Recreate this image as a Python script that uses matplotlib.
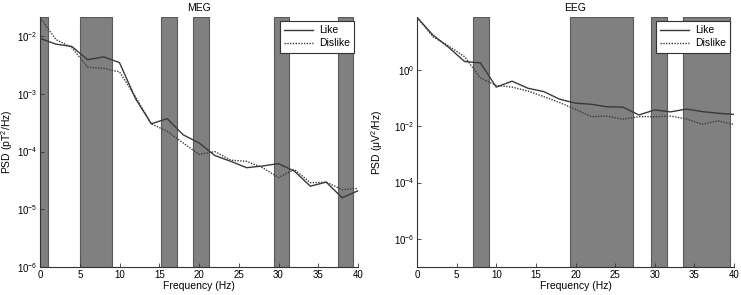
import numpy as np
import matplotlib
matplotlib.use('Agg')
import matplotlib.pyplot as plt

plt.rcParams['font.family'] = ['Liberation Sans', 'DejaVu Sans']
plt.rcParams['mathtext.fontset'] = 'custom'
plt.rcParams['mathtext.rm'] = 'Liberation Sans'
plt.rcParams['mathtext.it'] = 'Liberation Sans:italic'

freqs = np.arange(0, 41, 2)

# log10 of PSD
meg_like_log = [-2.04, -2.14, -2.18, -2.41, -2.36, -2.46, -3.08, -3.52, -3.43, -3.71,
                -3.85, -4.07, -4.17, -4.28, -4.25, -4.21, -4.34, -4.60, -4.53, -4.80, -4.68]
meg_dislike_log = [-1.68, -2.06, -2.20, -2.54, -2.56, -2.62, -3.05, -3.52, -3.65, -3.85,
                   -4.05, -4.00, -4.15, -4.17, -4.28, -4.45, -4.31, -4.54, -4.53, -4.66, -4.64]
eeg_like_log = [1.87, 1.24, 0.80, 0.30, 0.25, -0.61, -0.40, -0.65, -0.77, -1.04,
                -1.18, -1.22, -1.31, -1.32, -1.60, -1.42, -1.49, -1.39, -1.48, -1.54, -1.58]
eeg_dislike_log = [1.87, 1.18, 0.85, 0.47, -0.29, -0.55, -0.61, -0.75, -0.95, -1.16,
                   -1.40, -1.66, -1.64, -1.75, -1.66, -1.66, -1.64, -1.74, -1.93, -1.81, -1.94]

# significant frequency bands (Hz)
meg_bands = [(0, 1), (5, 9.05), (15.2, 17.2), (19.25, 21.25), (29.4, 31.35), (37.45, 39.4)]
eeg_bands = [(7.1, 9.1), (19.3, 27.3), (29.5, 31.5), (33.6, 39.5)]

fig = plt.figure(figsize=(7.41, 2.95), dpi=100)
ax1 = fig.add_axes([40/741, 28/295, 318/741, 250/295])
ax2 = fig.add_axes([417/741, 28/295, 317/741, 250/295])

panels = [
    (ax1, 'MEG', meg_like_log, meg_dislike_log, meg_bands, (1e-6, 10**-1.67),
     [1e-6, 1e-5, 1e-4, 1e-3, 1e-2], 'PSD (pT$^2$/Hz)', -0.078),
    (ax2, 'EEG', eeg_like_log, eeg_dislike_log, eeg_bands, (1e-7, 10**1.88),
     [1e-6, 1e-4, 1e-2, 1e0], 'PSD (\u03bcV$^2$/Hz)', -0.10),
]

for ax, title, like, dislike, bands, ylim, yticks, ylabel, labx in panels:
    for b0, b1 in bands:
        ax.axvspan(b0, b1, facecolor='#808080', edgecolor='#5a5a5a', lw=0.8, zorder=1)
    ax.plot(freqs, 10**np.array(like), color='#3a3a3a', lw=1.0, label='Like', zorder=3)
    ax.plot(freqs, 10**np.array(dislike), color='#3a3a3a', lw=1.0, ls=(0, (1, 1)),
            label='Dislike', zorder=3)
    ax.set_yscale('log')
    ax.set_xlim(0, 40)
    ax.set_ylim(*ylim)
    ax.set_yticks(yticks)
    ax.yaxis.set_minor_locator(matplotlib.ticker.NullLocator())
    ax.set_xticks(range(0, 41, 5))
    ax.set_title(title, fontsize=7.5, pad=4)
    ax.set_xlabel('Frequency (Hz)', fontsize=7.5, labelpad=1)
    ax.set_ylabel(ylabel, fontsize=7.5)
    ax.yaxis.set_label_coords(labx, 0.5)
    ax.tick_params(direction='in', length=3, width=0.6, labelsize=7, pad=2, color='#333333')
    for s in ['top', 'right']:
        ax.spines[s].set_visible(False)
    for s in ['left', 'bottom']:
        ax.spines[s].set_linewidth(0.8)
        ax.spines[s].set_color('#333333')
    leg = ax.legend(loc='upper right', fontsize=7.5, fancybox=False, framealpha=1,
                    edgecolor='#333333', handlelength=2.8, borderaxespad=0.4,
                    labelspacing=0.3, borderpad=0.4, handletextpad=0.5)
    leg.get_frame().set_linewidth(0.8)
    leg.set_zorder(5)

fig.savefig('out.png', dpi=100)
